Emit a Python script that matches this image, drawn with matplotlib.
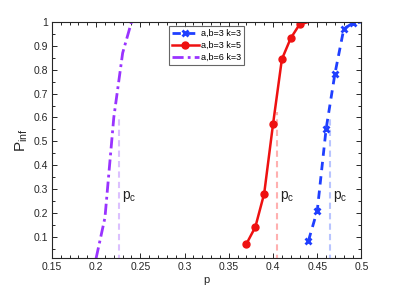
import matplotlib
matplotlib.use("Agg")
import matplotlib.pyplot as plt
from matplotlib.ticker import FuncFormatter, MultipleLocator

plt.rcParams['font.family'] = ['Liberation Sans', 'DejaVu Sans']
plt.rcParams['mathtext.fontset'] = 'custom'
plt.rcParams['mathtext.rm'] = 'Liberation Sans'
plt.rcParams['mathtext.it'] = 'Liberation Sans'

# Data
p_k3 = [0.44, 0.45, 0.46, 0.47, 0.48, 0.49, 0.50]
v_k3 = [0.083, 0.21, 0.552, 0.784, 0.971, 0.995, 1.0]
p_k5 = [0.37, 0.38, 0.39, 0.40, 0.41, 0.42, 0.43, 0.44]
v_k5 = [0.071, 0.141, 0.281, 0.572, 0.844, 0.932, 0.99, 1.0]
p_b6 = [0.20, 0.21, 0.22, 0.23, 0.24]
v_b6 = [0.01, 0.18, 0.60, 0.87, 1.0]
labels = ['a,b=3 k=3', 'a,b=3 k=5', 'a,b=6 k=3']
pc_vals = [0.4648, 0.4045, 0.2261]
pc_top = [0.60, 0.625, 0.61]

c_blue = '#1f3fff'
c_red = '#ee1111'
c_purple = '#9933ff'
c_blue_l = '#b8c4ff'
c_red_l = '#ffb0b0'
c_purple_l = '#dcc0ff'

fig = plt.figure(figsize=(3.99, 2.91), dpi=100)
ax = fig.add_axes([0.13, 0.1124, 0.776, 0.812])

ax.plot(p_k3, v_k3, '--', color=c_blue, lw=2, marker='x', ms=5, mew=2,
        markevery=list(range(len(p_k3) - 1)), label=labels[0], dashes=(3, 2.2))
ax.plot(p_k5, v_k5, '-', color=c_red, lw=1.8, marker='o', ms=5,
        markevery=list(range(len(p_k5) - 1)), label=labels[1])
ax.plot(p_b6, v_b6, '-.', color=c_purple, lw=2, label=labels[2],
        dashes=(4, 1.5, 1, 1.5))

for pc, top, col in zip(pc_vals, pc_top, [c_blue_l, c_red_l, c_purple_l]):
    ax.plot([pc, pc], [0, top], '--', color=col, lw=1.5, dashes=(3, 2), zorder=1)
    ax.text(pc + 0.003, 0.27, r'$\mathregular{p_c}$', fontsize=10,
            ha='left', va='center', color='#222222')

ax.set_xlim(0.15, 0.5)
ax.set_ylim(0.01, 1.0)
ax.xaxis.set_major_locator(MultipleLocator(0.05))
ax.xaxis.set_minor_locator(MultipleLocator(0.01))
ax.set_yticks([0.1, 0.2, 0.3, 0.4, 0.5, 0.6, 0.7, 0.8, 0.9, 1.0])
ax.yaxis.set_minor_locator(MultipleLocator(0.05))
fmt = FuncFormatter(lambda v, pos: '%g' % round(v, 3))
ax.xaxis.set_major_formatter(fmt)
ax.yaxis.set_major_formatter(fmt)

ax.tick_params(which='both', direction='in', top=True, right=True,
               labelsize=7.5, colors='#262626', width=0.7)
ax.tick_params(which='major', length=3.5, pad=3)
ax.tick_params(which='minor', length=2)
for s in ax.spines.values():
    s.set_color('#262626')
    s.set_linewidth(0.8)

ax.set_xlabel('p', fontsize=8, color='#262626', labelpad=2)
ax.set_ylabel(r'$\mathregular{P_{inf}}$', fontsize=11, color='#262626', labelpad=2)

leg = ax.legend(loc='upper left', bbox_to_anchor=(0.378, 0.982), fontsize=6.5,
                frameon=True, fancybox=False, edgecolor='#404040',
                handlelength=3.0, handletextpad=0.3, borderpad=0.3,
                labelspacing=0.35, borderaxespad=0)
leg.get_frame().set_linewidth(0.8)

fig.savefig('out.png', dpi=100)
